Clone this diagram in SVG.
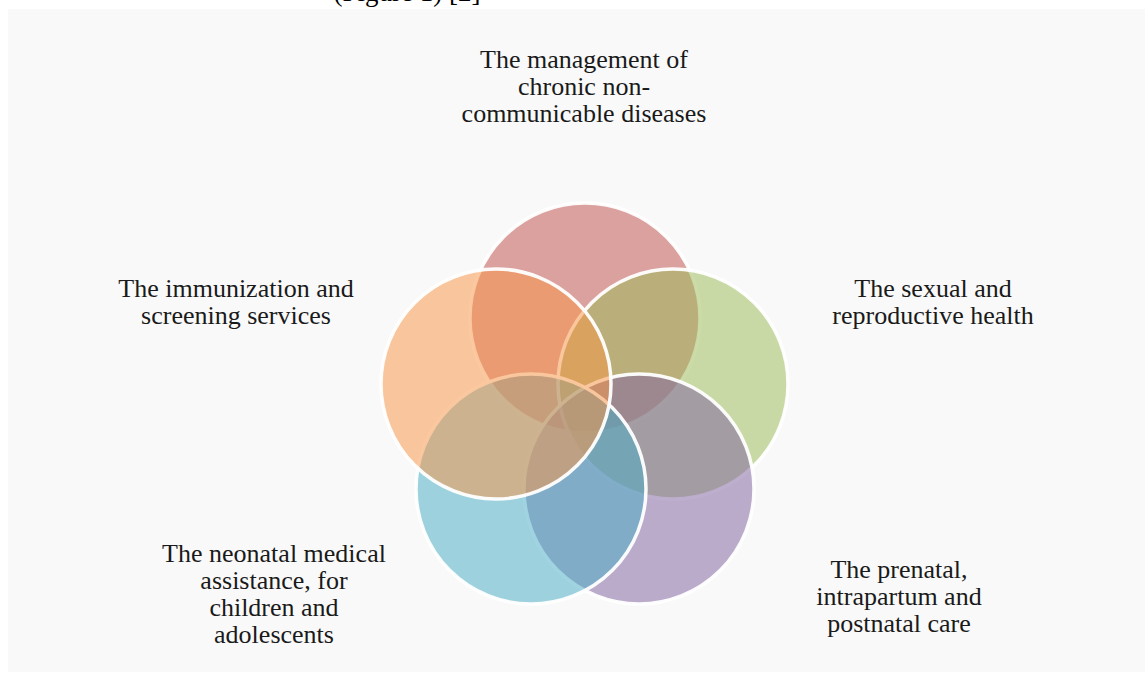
<svg xmlns="http://www.w3.org/2000/svg" width="1145" height="675" viewBox="0 0 1145 675">
<style>
.lbl{font-family:"Liberation Serif","Times New Roman",serif;font-size:26px;fill:#1a1a1a;text-anchor:middle}
.c{stroke:#ffffff;stroke-width:3.5;stroke-opacity:0.95;fill-opacity:0.52}
</style>
<rect x="0" y="0" width="1145" height="675" fill="#ffffff"/>
<rect x="8" y="9" width="1137" height="663" fill="#f9f9f9"/>
<text x="407" y="1" class="lbl" style="fill:#000;font-size:27px">(Figure 1) [2]</text>
<g id="circles">
<g id="node-chronic"><circle class="c" cx="585" cy="318" r="115" fill="#C0504D"/></g>
<g id="node-sexual"><circle class="c" cx="673" cy="384" r="115" fill="#9BBB59"/></g>
<g id="node-prenatal"><circle class="c" cx="639" cy="489" r="115" fill="#8064A2"/></g>
<g id="node-neonatal"><circle class="c" cx="531" cy="489" r="115" fill="#4BACC6"/></g>
<g id="node-immunization"><circle class="c" cx="496" cy="384" r="115" fill="#F79646"/></g>
</g>
<g id="labels">
<g id="label-chronic"><text class="lbl" x="584" y="68">The management of</text><text class="lbl" x="584" y="95">chronic non-</text><text class="lbl" x="584" y="122">communicable diseases</text></g>
<g id="label-immunization"><text class="lbl" x="236" y="297">The immunization and</text><text class="lbl" x="236" y="324">screening services</text></g>
<g id="label-sexual"><text class="lbl" x="933" y="297">The sexual and</text><text class="lbl" x="933" y="324">reproductive health</text></g>
<g id="label-neonatal"><text class="lbl" x="274" y="562">The neonatal medical</text><text class="lbl" x="274" y="589">assistance, for</text><text class="lbl" x="274" y="616">children and</text><text class="lbl" x="274" y="643">adolescents</text></g>
<g id="label-prenatal"><text class="lbl" x="899" y="578">The prenatal,</text><text class="lbl" x="899" y="605">intrapartum and</text><text class="lbl" x="899" y="632">postnatal care</text></g>
</g>
<g id="connectors"/>
</svg>
